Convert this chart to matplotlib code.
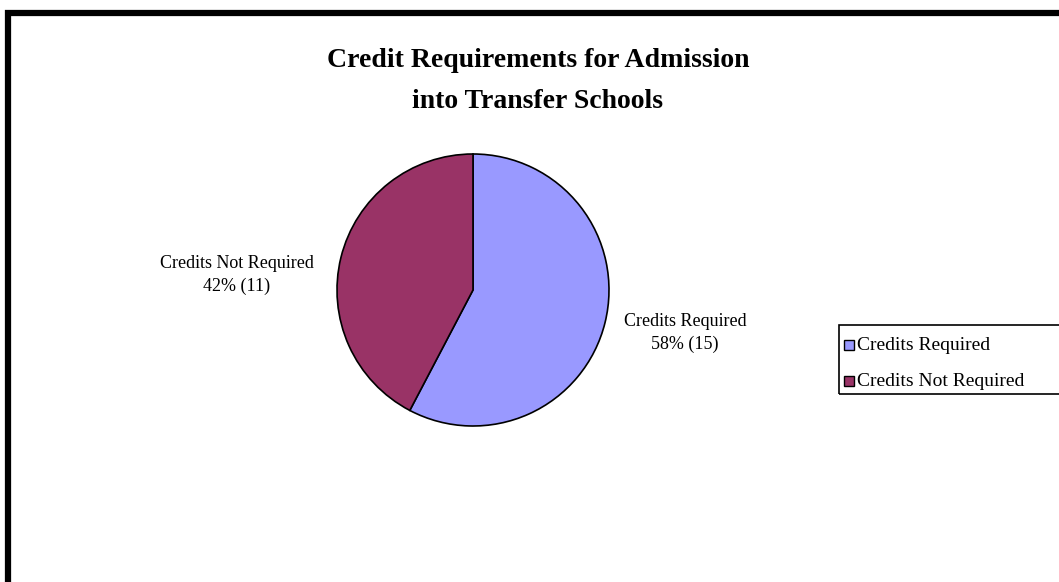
import matplotlib.pyplot as plt
from matplotlib.patches import Rectangle

# chart data
categories = ["Credits Required", "Credits Not Required"]
counts = [15, 11]
colors = ["#9999FF", "#993366"]

W, H = 1059, 582
fig = plt.figure(figsize=(W / 100, H / 100), dpi=100)
plt.rcParams["font.family"] = ["Liberation Serif", "DejaVu Serif"]


def fx(px):
    return px / W


def fy(py):
    return 1 - py / H


# outer chart frame (runs off the right and bottom edges)
fig.add_artist(Rectangle((fx(7.5), fy(H + 20)), fx(W + 40), (H + 20 - 12.5) / H,
                         transform=fig.transFigure, fill=False,
                         edgecolor="black", linewidth=4.5))

# title
fig.text(fx(538), fy(81), "Credit Requirements for Admission\ninto Transfer Schools",
         ha="center", va="center", fontsize=20, fontweight="bold",
         linespacing=1.8)

# pie
cx, cy, r = 473, 290, 136
ax = fig.add_axes([fx(cx - r), fy(cy + r), fx(2 * r), 2 * r / H])
wedges, _ = ax.pie(counts, colors=colors, startangle=90, counterclock=False,
                   wedgeprops=dict(edgecolor="black", linewidth=1.2))
ax.set_xlim(-1, 1)
ax.set_ylim(-1, 1)
ax.set_aspect("equal")
ax.axis("off")

total = sum(counts)
pcts = [round(100 * c / total) for c in counts]

# data labels
fig.text(fx(685), fy(333), "{}\n{}% ({})".format(categories[0], pcts[0], counts[0]),
         ha="center", va="center", fontsize=13, linespacing=1.5)
fig.text(fx(237), fy(275), "{}\n{}% ({})".format(categories[1], pcts[1], counts[1]),
         ha="center", va="center", fontsize=13, linespacing=1.45)

# legend box
lax = fig.add_axes([fx(839), fy(394), fx(W - 839 + 20), 69 / H])
lax.set_xlim(0, 1)
lax.set_ylim(0, 1)
lax.axis("off")
lax.add_patch(Rectangle((0, 0), 1, 1, transform=lax.transAxes, fill=False,
                        edgecolor="black", linewidth=1.2, clip_on=False))
for i, (name, col) in enumerate(zip(categories, colors)):
    ypx = 345 + i * 36
    fig.add_artist(Rectangle((fx(844), fy(ypx + 5)), fx(10), 10 / H,
                             transform=fig.transFigure, facecolor=col,
                             edgecolor="black", linewidth=1))
    fig.text(fx(857), fy(ypx), name, ha="left", va="center", fontsize=14)

fig.savefig("out.png", dpi=100, facecolor="white")
